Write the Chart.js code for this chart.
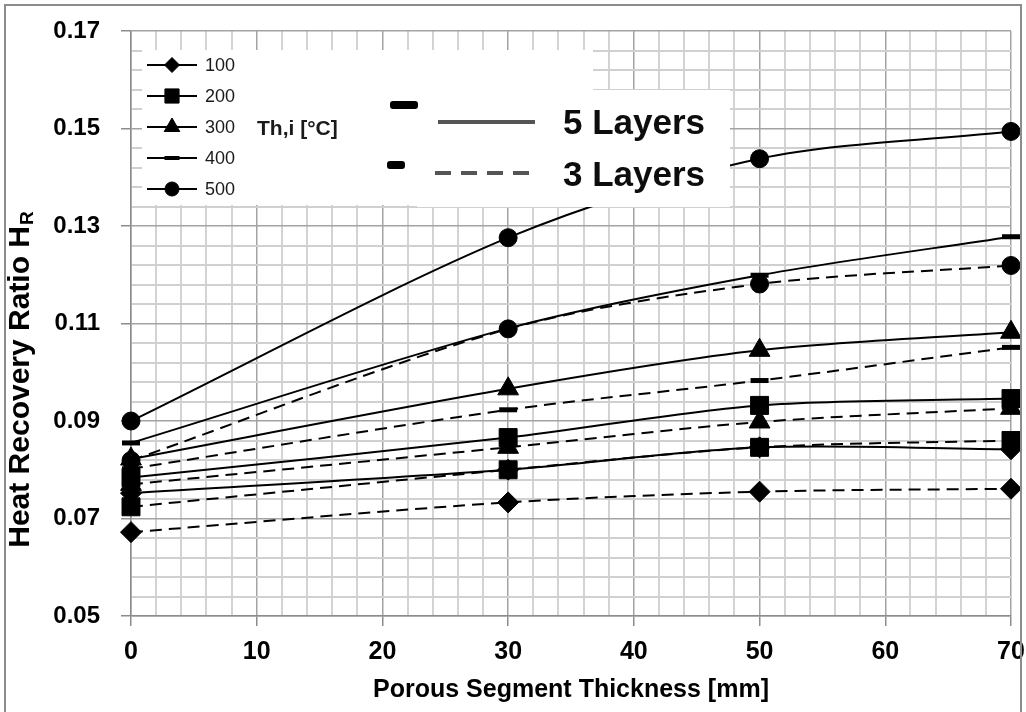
<!DOCTYPE html>
<html>
<head>
<meta charset="utf-8">
<script src="https://cdn.jsdelivr.net/npm/chart.js@4.4.1/dist/chart.umd.min.js"></script>
<style>
  html, body { margin: 0; padding: 0; background: #fff; }
</style>
</head>
<body>
<canvas id="myChart" width="1026" height="712"></canvas>
<script>
// porous segment thickness [mm]
const thickness = [0, 30, 50, 70];
const temps = [100, 200, 300, 400, 500];
const markers = ['rectRot', 'rect', 'triangle', 'line', 'circle'];
const layerNames = ['5 Layers', '3 Layers'];

// heat recovery ratio, 5 layers (solid)
const five100 = [0.0752, 0.0800, 0.0846, 0.0842];
const five200 = [0.0784, 0.0866, 0.0932, 0.0946];
const five300 = [0.0822, 0.0966, 0.1045, 0.1082];
const five400 = [0.0855, 0.1090, 0.1199, 0.1278];
const five500 = [0.0900, 0.1276, 0.1438, 0.1494];

// heat recovery ratio, 3 layers (dashed)
const three100 = [0.0672, 0.0733, 0.0755, 0.0761];
const three200 = [0.0724, 0.0800, 0.0846, 0.0860];
const three300 = [0.0770, 0.0846, 0.0898, 0.0926];
const three400 = [0.0802, 0.0923, 0.0983, 0.1051];
const three500 = [0.0819, 0.1089, 0.1181, 0.1219];

const yTickLabels = ['0.05', '0.07', '0.09', '0.11', '0.13', '0.15', '0.17'];
const xTickLabels = ['0', '10', '20', '30', '40', '50', '60', '70'];

const fiveSets = [five100, five200, five300, five400, five500];
const threeSets = [three100, three200, three300, three400, three500];

const FONT = "'Liberation Sans', Arial, sans-serif";
const pointSize = { rectRot: 10.5, rect: 12.7, triangle: 12, line: 9, circle: 9 };

function makeSet(values, i, dashed) {
  const style = markers[i];
  return {
    label: temps[i] + (dashed ? ' 3L' : ' 5L'),
    data: values.map((v, k) => ({ x: thickness[k], y: v })),
    borderColor: '#000',
    borderWidth: 2,
    borderDash: dashed ? [12, 7] : [],
    backgroundColor: '#000',
    pointStyle: style,
    pointRadius: pointSize[style],
    pointBackgroundColor: '#000',
    pointBorderColor: '#000',
    pointBorderWidth: style === 'line' ? 5 : 1,
    tension: 0.3,
    clip: false
  };
}

let datasets = [];
for (let i = 0; i < temps.length; i++) {
  datasets.push(makeSet(fiveSets[i], i, false));
  datasets.push(makeSet(threeSets[i], i, true));
}

function isMajorY(v) {
  const q = (v - 0.05) / 0.02;
  return Math.abs(q - Math.round(q)) < 1e-6;
}
function isMajorX(v) {
  return Math.abs(v / 10 - Math.round(v / 10)) < 1e-6;
}

const overlay = {
  id: 'overlay',
  afterDatasetsDraw(chart) {
    const ctx = chart.ctx;
    ctx.save();

    // outer frame
    ctx.strokeStyle = '#8c8c8c';
    ctx.lineWidth = 2;
    ctx.strokeRect(5, 5, 1016, 720);

    // white legend boxes laid over the plot
    ctx.fillStyle = '#fff';
    ctx.fillRect(142, 50, 451, 155);
    ctx.fillRect(417, 90, 313, 117);

    // temperature legend
    ctx.textBaseline = 'middle';
    ctx.textAlign = 'left';
    const legendSize = { rectRot: 7.5, rect: 10, triangle: 9, line: 7.5, circle: 7 };
    for (let i = 0; i < temps.length; i++) {
      const y = 65 + i * 31;
      ctx.strokeStyle = '#000';
      ctx.lineWidth = 2;
      ctx.setLineDash([]);
      ctx.beginPath();
      ctx.moveTo(147, y);
      ctx.lineTo(197, y);
      ctx.stroke();
      ctx.fillStyle = '#000';
      ctx.lineWidth = markers[i] === 'line' ? 4 : 1;
      Chart.helpers.drawPoint(ctx, {
        pointStyle: markers[i], radius: legendSize[markers[i]], rotation: 0,
        borderWidth: markers[i] === 'line' ? 4 : 1
      }, 172, y);
      ctx.fillStyle = '#1a1a1a';
      ctx.font = '18px ' + FONT;
      ctx.fillText(String(temps[i]), 205, y + 1);
    }
    ctx.font = 'bold 21px ' + FONT;
    ctx.fillStyle = '#1a1a1a';
    ctx.fillText('Th,i [°C]', 257, 129);

    // stray legend keys
    ctx.fillStyle = '#000';
    ctx.beginPath();
    ctx.roundRect(390, 101, 28, 8, 3);
    ctx.roundRect(387, 161, 18, 8, 3);
    ctx.fill();

    // layer legend
    ctx.strokeStyle = '#555';
    ctx.lineWidth = 4;
    ctx.setLineDash([]);
    ctx.beginPath();
    ctx.moveTo(438, 122);
    ctx.lineTo(535, 122);
    ctx.stroke();
    ctx.setLineDash([16, 10]);
    ctx.beginPath();
    ctx.moveTo(435, 173);
    ctx.lineTo(535, 173);
    ctx.stroke();
    ctx.setLineDash([]);
    ctx.fillStyle = '#0d0d0d';
    ctx.font = 'bold 35px ' + FONT;
    ctx.fillText(layerNames[0], 563, 124);
    ctx.fillText(layerNames[1], 563, 176);

    // axis titles
    ctx.fillStyle = '#000';
    ctx.font = 'bold 25px ' + FONT;
    ctx.textAlign = 'center';
    ctx.fillText('Porous Segment Thickness [mm]', 571, 690);

    ctx.translate(21, 380);
    ctx.rotate(-Math.PI / 2);
    const main = 'Heat Recovery Ratio H';
    ctx.font = 'bold 30px ' + FONT;
    const wMain = ctx.measureText(main).width;
    ctx.font = 'bold 19px ' + FONT;
    const wSub = ctx.measureText('R').width;
    const x0 = -(wMain + wSub) / 2;
    ctx.textAlign = 'left';
    ctx.font = 'bold 30px ' + FONT;
    ctx.fillText(main, x0, 0);
    ctx.font = 'bold 19px ' + FONT;
    ctx.fillText('R', x0 + wMain + 1, 7);

    ctx.restore();
  }
};

const myChart = new Chart(document.getElementById('myChart'), {
  type: 'line',
  data: { datasets: datasets },
  options: {
    responsive: false,
    animation: false,
    devicePixelRatio: 1,
    layout: { padding: { left: 0, top: 31, right: 15, bottom: 0 } },
    plugins: {
      legend: { display: false },
      tooltip: { enabled: false }
    },
    scales: {
      x: {
        type: 'linear',
        min: 0,
        max: 70,
        afterFit: (scale) => {
          scale.height = 96;
          scale.paddingLeft = 0;
          scale.paddingRight = 0;
        },
        border: { color: '#8c8c8c', width: 1.5 },
        grid: {
          color: (c) => isMajorX(c.tick.value) ? '#a3a3a3' : '#d3d3d3',
          lineWidth: (c) => isMajorX(c.tick.value) ? 1.5 : 2,
          tickColor: (c) => isMajorX(c.tick.value) ? '#8c8c8c' : 'rgba(0,0,0,0)',
          tickLength: 10
        },
        ticks: {
          stepSize: 2,
          autoSkip: false,
          maxRotation: 0,
          maxTicksLimit: 100,
          padding: 11,
          color: '#000',
          font: { family: FONT, size: 25, weight: 'bold' },
          callback: (v) => isMajorX(v) ? xTickLabels[Math.round(v / 10)] : ''
        }
      },
      y: {
        min: 0.05,
        max: 0.17,
        afterFit: (scale) => {
          scale.width = 131;
          scale.paddingTop = 0;
          scale.paddingBottom = 0;
        },
        border: { color: '#8c8c8c', width: 1.5 },
        grid: {
          color: (c) => isMajorY(c.tick.value) ? '#a3a3a3' : '#d0d0d0',
          lineWidth: (c) => isMajorY(c.tick.value) ? 1.5 : 2,
          tickColor: (c) => isMajorY(c.tick.value) ? '#8c8c8c' : 'rgba(0,0,0,0)',
          tickLength: 10
        },
        ticks: {
          stepSize: 0.004,
          autoSkip: false,
          maxTicksLimit: 100,
          padding: 21,
          color: '#000',
          font: { family: FONT, size: 24, weight: 'bold' },
          callback: (v) => isMajorY(v) ? yTickLabels[Math.round((v - 0.05) / 0.02)] : ''
        }
      }
    }
  },
  plugins: [overlay]
});
</script>
</body>
</html>
